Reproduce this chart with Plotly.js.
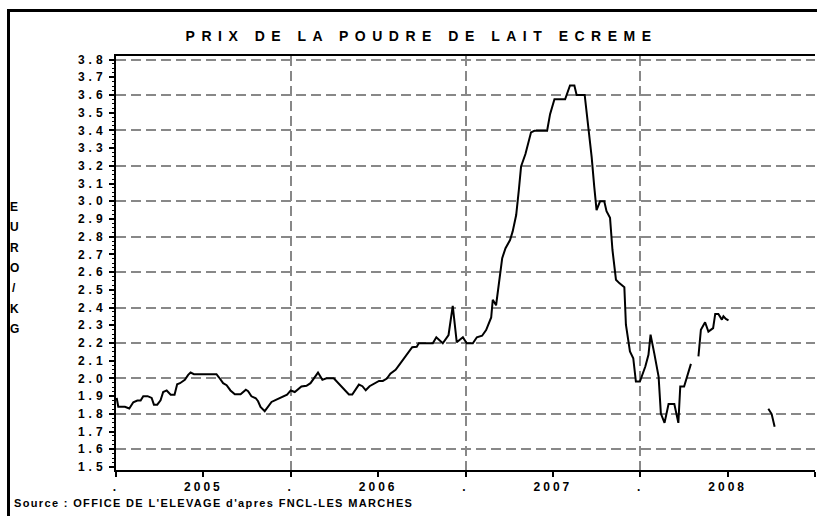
<!DOCTYPE html>
<html>
<head>
<meta charset="utf-8">
<script src="https://cdn.plot.ly/plotly-3.0.1.min.js"></script>
<style>
  html, body { margin: 0; padding: 0; background: #fff; }
  #frame { position: absolute; left: 7px; top: 9px; width: 830px; height: 530px;
           border-left: 3px solid #000; border-top: 3px solid #000; }
  #chart { position: absolute; left: 0; top: 0; width: 817px; height: 516px; }
  .gtitle { letter-spacing: 6.5px; }
  .xtick text { letter-spacing: 3px; }
  .ytick text { letter-spacing: 4px; }
</style>
</head>
<body>
<div id="frame"></div>
<div id="chart"></div>
<script>
// Date as decimal year, price in EURO/KG (null = gap in the series)
const xYear = [
  2005.004, 2005.013, 2005.051, 2005.076, 2005.099, 2005.122, 2005.141, 2005.156, 2005.181, 2005.204,
  2005.217, 2005.236, 2005.255, 2005.270, 2005.290, 2005.313, 2005.335, 2005.350, 2005.366, 2005.394,
  2005.413, 2005.427, 2005.446, 2005.575, 2005.590, 2005.613, 2005.633, 2005.655, 2005.680, 2005.713,
  2005.743, 2005.756, 2005.775, 2005.800, 2005.813, 2005.827, 2005.851, 2005.870, 2005.890, 2005.918,
  2005.937, 2005.960, 2005.979, 2006.000, 2006.023, 2006.061, 2006.090, 2006.113, 2006.137, 2006.156,
  2006.181, 2006.204, 2006.246, 2006.280, 2006.309, 2006.333, 2006.352, 2006.390, 2006.410, 2006.429,
  2006.451, 2006.480, 2006.505, 2006.527, 2006.550, 2006.570, 2006.600, 2006.623, 2006.642, 2006.665,
  2006.695, 2006.721, 2006.733, 2006.813, 2006.833, 2006.870, 2006.903, 2006.927, 2006.950, 2006.985,
  2007.007, 2007.042, 2007.065, 2007.095, 2007.118, 2007.147, 2007.156, 2007.175, 2007.190, 2007.210,
  2007.229, 2007.255, 2007.270, 2007.290, 2007.305, 2007.318, 2007.343, 2007.375, 2007.394, 2007.467,
  2007.484, 2007.509, 2007.570, 2007.598, 2007.623, 2007.636, 2007.682, 2007.705, 2007.722, 2007.737,
  2007.750, 2007.770, 2007.794, 2007.807, 2007.827, 2007.841, 2007.861, 2007.880, 2007.909, 2007.918,
  2007.941, 2007.960, 2007.975, 2007.998, 2008.029, 2008.047, 2008.059, 2008.080, 2008.105, 2008.118,
  2008.139, 2008.162, 2008.195, 2008.218, 2008.229, 2008.251, 2008.270, 2008.290, 2008.311, 2008.333,
  2008.347, 2008.371, 2008.390, 2008.417, 2008.429, 2008.447, 2008.467, 2008.476, 2008.490, 2008.505,
  2008.620, 2008.733, 2008.752, 2008.769
];
const price = [
  1.89, 1.84, 1.84, 1.83, 1.865, 1.875, 1.875, 1.90, 1.90, 1.89,
  1.852, 1.852, 1.876, 1.923, 1.932, 1.908, 1.908, 1.967, 1.973, 1.992,
  2.020, 2.033, 2.024, 2.024, 2.005, 1.973, 1.962, 1.932, 1.910, 1.910,
  1.936, 1.928, 1.899, 1.888, 1.871, 1.839, 1.815, 1.839, 1.867, 1.880,
  1.889, 1.899, 1.908, 1.932, 1.923, 1.954, 1.958, 1.973, 2.010, 2.033,
  1.992, 2.001, 2.001, 1.964, 1.936, 1.909, 1.909, 1.965, 1.956, 1.933,
  1.956, 1.971, 1.986, 1.986, 1.999, 2.027, 2.049, 2.079, 2.105, 2.138,
  2.176, 2.179, 2.198, 2.198, 2.232, 2.198, 2.245, 2.409, 2.204, 2.232,
  2.198, 2.198, 2.232, 2.241, 2.273, 2.344, 2.444, 2.413, 2.53, 2.679,
  2.735, 2.781, 2.83, 2.922, 3.062, 3.196, 3.267, 3.389, 3.398, 3.398,
  3.492, 3.576, 3.576, 3.654, 3.654, 3.600, 3.600, 3.407, 3.249, 3.080,
  2.950, 3.000, 3.000, 2.944, 2.907, 2.725, 2.557, 2.538, 2.515, 2.303,
  2.152, 2.114, 1.982, 1.982, 2.067, 2.133, 2.247, 2.143, 2.010, 1.802,
  1.749, 1.855, 1.855, 1.749, 1.954, 1.954, 2.020, 2.082, null, 2.124,
  2.275, 2.317, 2.264, 2.284, 2.364, 2.364, 2.332, 2.351, 2.336, 2.328,
  null, 1.829, 1.799, 1.727
];

const xTickVals = [2005, 2005.5, 2006, 2006.5, 2007, 2007.5, 2008, 2008.5, 2009];
const xTickText = ['.', '2005', '.', '2006', '.', '2007', '.', '2008', '.'];
const xGridVals = [2005, 2006, 2007, 2008, 2009];

const yTickVals = [1.5, 1.6, 1.7, 1.8, 1.9, 2.0, 2.1, 2.2, 2.3, 2.4, 2.5, 2.6,
                   2.7, 2.8, 2.9, 3.0, 3.1, 3.2, 3.3, 3.4, 3.5, 3.6, 3.7, 3.8];
const yTickText = ['1.5', '1.6', '1.7', '1.8', '1.9', '2.0', '2.1', '2.2', '2.3', '2.4', '2.5', '2.6',
                   '2.7', '2.8', '2.9', '3.0', '3.1', '3.2', '3.3', '3.4', '3.5', '3.6', '3.7', '3.8'];
const yGridVals = [1.6, 1.8, 2.0, 2.2, 2.4, 2.6, 2.8, 3.0, 3.2, 3.4, 3.6, 3.8];

const titleText = 'PRIX DE LA POUDRE DE LAIT ECREME';
const sourceText = "Source : OFFICE DE L'ELEVAGE d'apres FNCL-LES MARCHES";
const yLetters = ['E', 'U', 'R', 'O', '/', 'K', 'G'];

const FONT = 'Liberation Sans, Arial, sans-serif';
const xRange = [2005, 2009];
const yRange = [1.483, 3.82];
const gridStyle = { showgrid: true, gridcolor: '#888888', gridwidth: 2, griddash: '10px,5px' };

const annotations = [{
  text: sourceText, xref: 'paper', yref: 'paper', x: -0.1488, y: -0.0797,
  xanchor: 'left', yanchor: 'middle', align: 'left', showarrow: false,
  font: { family: FONT, size: 11, weight: 'bold', color: '#000' }
}];
yLetters.forEach((ch, i) => {
  annotations.push({
    text: ch, xref: 'paper', yref: 'paper', x: -0.1459, y: 0.635 - i * 0.049,
    xanchor: 'center', yanchor: 'middle', showarrow: false,
    font: { family: FONT, size: 12, weight: 'bold', color: '#000' }
  });
});

const data = [
  // helper trace so the grid-only overlay axes are drawn
  { type: 'scatter', mode: 'none', x: [], y: [], xaxis: 'x2', yaxis: 'y2', hoverinfo: 'skip' },
  { type: 'scatter', mode: 'lines', x: xYear, y: price, xaxis: 'x', yaxis: 'y',
    connectgaps: false, line: { color: '#000', width: 2 }, hoverinfo: 'skip' }
];

const layout = {
  width: 817, height: 516,
  margin: { l: 116, r: 2, t: 56, b: 46 },
  paper_bgcolor: 'rgba(0,0,0,0)', plot_bgcolor: 'rgba(0,0,0,0)',
  showlegend: false,
  title: { text: titleText, x: 0.516, xanchor: 'center', y: 0.930, yanchor: 'middle',
           font: { family: FONT, size: 14, weight: 'bold', color: '#000' } },
  xaxis: {
    range: xRange, tickmode: 'array', tickvals: xTickVals, ticktext: xTickText,
    ticks: 'outside', ticklen: 5, tickwidth: 2, tickcolor: '#000',
    showline: true, linecolor: '#000', linewidth: 2, mirror: true,
    showgrid: false, zeroline: false,
    tickfont: { family: FONT, size: 12, weight: 'bold', color: '#000' }
  },
  xaxis2: Object.assign({
    range: xRange, overlaying: 'x', anchor: 'y', tickmode: 'array', tickvals: xGridVals,
    showticklabels: false, ticks: '', showline: false, zeroline: false
  }, gridStyle),
  yaxis: {
    range: yRange, tickmode: 'array', tickvals: yTickVals, ticktext: yTickText,
    ticks: 'outside', ticklen: 5, tickwidth: 2, tickcolor: '#000',
    minor: { dtick: 0.025, ticks: 'outside', ticklen: 2, tickwidth: 1, tickcolor: '#000', showgrid: false },
    showline: true, linecolor: '#000', linewidth: 2,
    showgrid: false, zeroline: false,
    tickfont: { family: FONT, size: 12, weight: 'bold', color: '#000' }
  },
  yaxis2: Object.assign({
    range: yRange, overlaying: 'y', anchor: 'x', side: 'left', tickmode: 'array', tickvals: yGridVals,
    showticklabels: false, ticks: '', showline: false, zeroline: false
  }, gridStyle),
  annotations: annotations
};

Plotly.newPlot('chart', data, layout, { staticPlot: true, displayModeBar: false }).then(() => {
  document.querySelectorAll('.annotation-text').forEach((el) => {
    if (el.textContent.indexOf('Source') === 0) {
      el.style.letterSpacing = '1.35px';
      el.setAttribute('text-anchor', 'start');
    }
  });
});
</script>
</body>
</html>
